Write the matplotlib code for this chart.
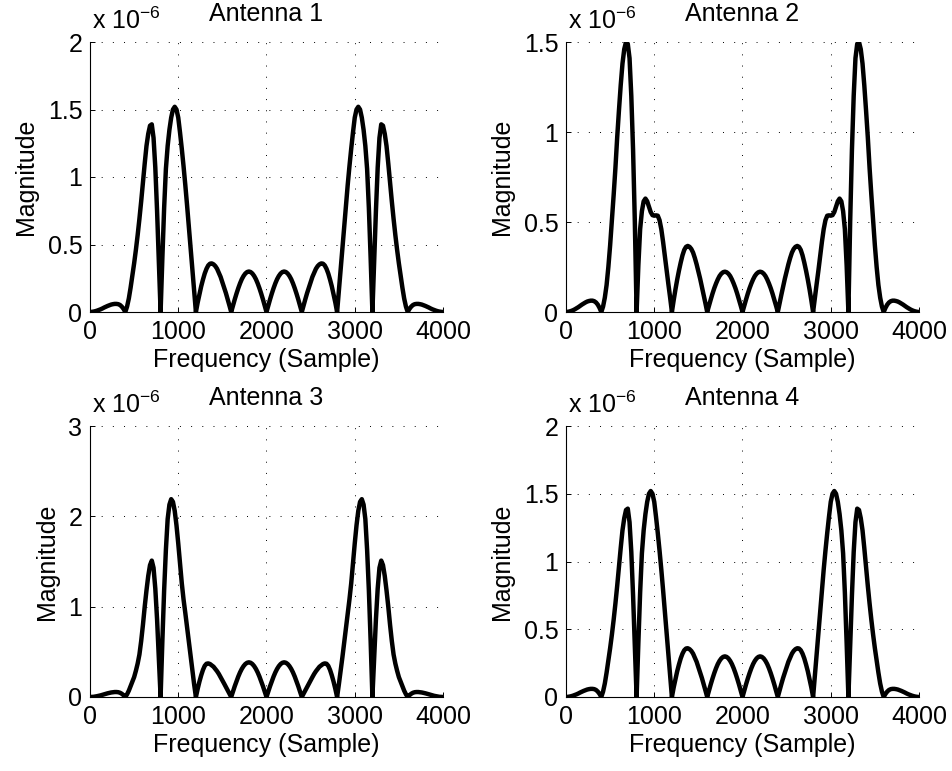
import numpy as np
import matplotlib
matplotlib.use("Agg")
import matplotlib.pyplot as plt

plt.rcParams['font.family'] = ['Liberation Sans', 'DejaVu Sans']
plt.rcParams['mathtext.fontset'] = 'custom'
plt.rcParams['mathtext.rm'] = 'Liberation Sans'
plt.rcParams['mathtext.it'] = 'Liberation Sans'
plt.rcParams['mathtext.default'] = 'regular'

# Frequency axis (samples), spectrum read every 20 samples
freq = np.arange(0, 4001, 20)

# Magnitudes in units of 1e-6
mag_ant1 = [0,
    0.001, 0.003, 0.006, 0.010, 0.015, 0.020, 0.026, 0.033, 0.039, 0.045, 0.050, 0.055, 0.058, 0.060, 0.060, 0.058, 0.052, 0.040, 0.023, 0,
    0.04, 0.10, 0.18, 0.27, 0.36, 0.46, 0.57, 0.69, 0.82, 0.96, 1.10, 1.23, 1.32, 1.38, 1.39, 1.29, 1.07, 0.75, 0.38, 0,
    0.40, 0.77, 1.06, 1.23, 1.35, 1.44, 1.50, 1.52, 1.50, 1.44, 1.33, 1.21, 1.08, 0.94, 0.79, 0.63, 0.47, 0.31, 0.155, 0,
    0.07, 0.13, 0.19, 0.24, 0.285, 0.32, 0.345, 0.358, 0.36, 0.353, 0.34, 0.32, 0.29, 0.26, 0.22, 0.18, 0.14, 0.095, 0.048, 0,
    0.047, 0.093, 0.136, 0.176, 0.212, 0.243, 0.267, 0.285, 0.296, 0.30, 0.296, 0.285, 0.267, 0.243, 0.212, 0.176, 0.136, 0.093, 0.047, 0,
    0.047, 0.093, 0.136, 0.176, 0.212, 0.243, 0.267, 0.285, 0.296, 0.30, 0.296, 0.285, 0.267, 0.243, 0.212, 0.176, 0.136, 0.093, 0.047, 0,
    0.048, 0.095, 0.14, 0.18, 0.22, 0.26, 0.29, 0.32, 0.34, 0.353, 0.36, 0.358, 0.345, 0.32, 0.285, 0.24, 0.19, 0.13, 0.07, 0,
    0.155, 0.31, 0.47, 0.63, 0.79, 0.94, 1.08, 1.21, 1.33, 1.44, 1.50, 1.52, 1.50, 1.44, 1.35, 1.23, 1.06, 0.77, 0.40, 0,
    0.38, 0.75, 1.07, 1.29, 1.39, 1.38, 1.32, 1.23, 1.10, 0.96, 0.82, 0.69, 0.57, 0.46, 0.36, 0.27, 0.18, 0.10, 0.04, 0,
    0.023, 0.040, 0.052, 0.058, 0.060, 0.060, 0.058, 0.055, 0.050, 0.045, 0.039, 0.033, 0.026, 0.020, 0.015, 0.010, 0.006, 0.003, 0.001, 0]

mag_ant2 = [0,
    0.001, 0.003, 0.006, 0.010, 0.015, 0.021, 0.027, 0.034, 0.041, 0.047, 0.053, 0.058, 0.061, 0.063, 0.063, 0.060, 0.053, 0.041, 0.023, 0,
    0.03, 0.08, 0.15, 0.25, 0.37, 0.51, 0.65, 0.80, 0.97, 1.12, 1.26, 1.38, 1.46, 1.50, 1.49, 1.41, 1.20, 0.90, 0.50, 0,
    0.26, 0.46, 0.56, 0.615, 0.63, 0.615, 0.585, 0.555, 0.538, 0.535, 0.537, 0.535, 0.51, 0.46, 0.39, 0.31, 0.23, 0.155, 0.08, 0,
    0.065, 0.125, 0.18, 0.23, 0.275, 0.315, 0.345, 0.362, 0.367, 0.362, 0.35, 0.33, 0.30, 0.265, 0.225, 0.185, 0.14, 0.095, 0.048, 0,
    0.035, 0.069, 0.102, 0.132, 0.158, 0.181, 0.200, 0.213, 0.221, 0.224, 0.221, 0.213, 0.200, 0.181, 0.158, 0.132, 0.102, 0.069, 0.035, 0,
    0.035, 0.069, 0.102, 0.132, 0.158, 0.181, 0.200, 0.213, 0.221, 0.224, 0.221, 0.213, 0.200, 0.181, 0.158, 0.132, 0.102, 0.069, 0.035, 0,
    0.048, 0.095, 0.14, 0.185, 0.225, 0.265, 0.30, 0.33, 0.35, 0.362, 0.367, 0.362, 0.345, 0.315, 0.275, 0.23, 0.18, 0.125, 0.065, 0,
    0.08, 0.155, 0.23, 0.31, 0.39, 0.46, 0.51, 0.535, 0.537, 0.535, 0.538, 0.555, 0.585, 0.615, 0.63, 0.615, 0.56, 0.46, 0.26, 0,
    0.50, 0.90, 1.20, 1.41, 1.49, 1.50, 1.46, 1.38, 1.26, 1.12, 0.97, 0.80, 0.65, 0.51, 0.37, 0.25, 0.15, 0.08, 0.03, 0,
    0.023, 0.041, 0.053, 0.060, 0.063, 0.063, 0.061, 0.058, 0.053, 0.047, 0.041, 0.034, 0.027, 0.021, 0.015, 0.010, 0.006, 0.003, 0.001, 0]

mag_ant3 = [0,
    0.001, 0.002, 0.005, 0.009, 0.013, 0.018, 0.024, 0.030, 0.036, 0.041, 0.046, 0.050, 0.053, 0.055, 0.055, 0.053, 0.047, 0.036, 0.020, 0,
    0.03, 0.07, 0.12, 0.17, 0.22, 0.29, 0.37, 0.47, 0.62, 0.80, 1.00, 1.18, 1.34, 1.46, 1.51, 1.43, 1.20, 0.86, 0.44, 0,
    0.62, 1.18, 1.63, 1.97, 2.13, 2.19, 2.16, 2.06, 1.90, 1.70, 1.48, 1.26, 1.08, 0.93, 0.77, 0.60, 0.44, 0.29, 0.14, 0,
    0.09, 0.17, 0.24, 0.30, 0.345, 0.368, 0.372, 0.365, 0.35, 0.335, 0.31, 0.285, 0.255, 0.22, 0.185, 0.148, 0.11, 0.074, 0.037, 0,
    0.060, 0.119, 0.174, 0.226, 0.272, 0.311, 0.342, 0.365, 0.379, 0.384, 0.379, 0.365, 0.342, 0.311, 0.272, 0.226, 0.174, 0.119, 0.060, 0,
    0.060, 0.119, 0.174, 0.226, 0.272, 0.311, 0.342, 0.365, 0.379, 0.384, 0.379, 0.365, 0.342, 0.311, 0.272, 0.226, 0.174, 0.119, 0.060, 0,
    0.037, 0.074, 0.11, 0.148, 0.185, 0.22, 0.255, 0.285, 0.31, 0.335, 0.35, 0.365, 0.372, 0.368, 0.345, 0.30, 0.24, 0.17, 0.09, 0,
    0.14, 0.29, 0.44, 0.60, 0.77, 0.93, 1.08, 1.26, 1.48, 1.70, 1.90, 2.06, 2.16, 2.19, 2.13, 1.97, 1.63, 1.18, 0.62, 0,
    0.44, 0.86, 1.20, 1.43, 1.51, 1.46, 1.34, 1.18, 1.00, 0.80, 0.62, 0.47, 0.37, 0.29, 0.22, 0.17, 0.12, 0.07, 0.03, 0,
    0.020, 0.036, 0.047, 0.053, 0.055, 0.055, 0.053, 0.050, 0.046, 0.041, 0.036, 0.030, 0.024, 0.018, 0.013, 0.009, 0.005, 0.002, 0.001, 0]

mag_ant4 = list(mag_ant1)

titles = ["Antenna 1", "Antenna 2", "Antenna 3", "Antenna 4"]
series = [mag_ant1, mag_ant2, mag_ant3, mag_ant4]
x_ticks = [0, 1000, 2000, 3000, 4000]
x_ticklabels = ["0", "1000", "2000", "3000", "4000"]
y_ticks = [[0, 0.5, 1, 1.5, 2], [0, 0.5, 1, 1.5], [0, 1, 2, 3], [0, 0.5, 1, 1.5, 2]]
y_ticklabels = [["0", "0.5", "1", "1.5", "2"], ["0", "0.5", "1", "1.5"],
                ["0", "1", "2", "3"], ["0", "0.5", "1", "1.5", "2"]]
y_limits = [(0, 2), (0, 1.5), (0, 3), (0, 2)]

W, H = 953, 771
fig = plt.figure(figsize=(W / 100, H / 100), dpi=100)
boxes = [(90, 42, 353, 270), (566, 42, 353, 270), (90, 426, 353, 271), (566, 426, 353, 271)]
FS = 18

for i in range(4):
    l, t, w, h = boxes[i]
    ax = fig.add_axes([l / W, 1 - (t + h) / H, w / W, h / H])
    ax.plot(freq, series[i], color='black', linewidth=3.2, solid_joinstyle='round')
    ax.set_xlim(0, 4000)
    ax.set_ylim(*y_limits[i])
    ax.set_xticks(x_ticks)
    ax.set_xticklabels(x_ticklabels)
    ax.set_yticks(y_ticks[i])
    ax.set_yticklabels(y_ticklabels[i])
    ax.tick_params(direction='in', length=3.5, width=0.7, labelsize=FS, pad=5.5,
                   colors='black')
    for s in ['top', 'right']:
        ax.spines[s].set_visible(False)
    for s in ['left', 'bottom']:
        ax.spines[s].set_linewidth(0.8)
        ax.spines[s].set_color('black')
    ax.grid(True, linestyle=(0, (1, 10.5)), color='black', linewidth=0.7)
    ax.set_axisbelow(True)
    ax.set_title(titles[i], fontsize=FS, pad=15)
    ax.set_xlabel("Frequency (Sample)", fontsize=FS, labelpad=3)
    ax.set_ylabel("Magnitude", fontsize=FS, labelpad=7)
    ax.annotate(r"x 10$^{-6}$", xy=(0, 1), xycoords='axes fraction',
                xytext=(1.5, 9.5), textcoords='offset points',
                ha='left', va='baseline', fontsize=FS)

fig.savefig("out.png", dpi=100)
